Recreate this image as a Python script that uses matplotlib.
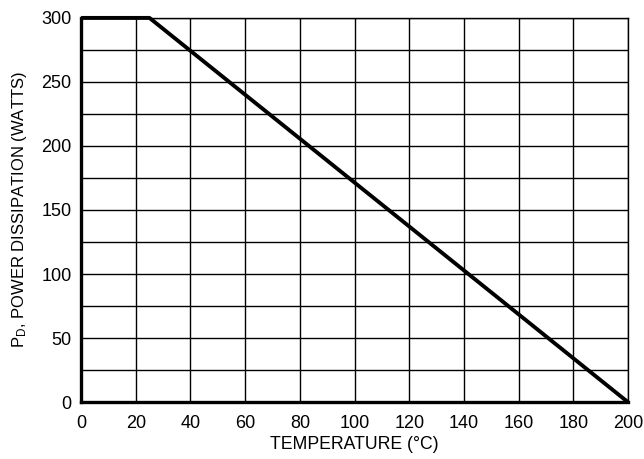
import numpy as np
import matplotlib.pyplot as plt

plt.rcParams['font.family'] = ['Liberation Sans', 'DejaVu Sans']

# derating curve
temp = [0, 25, 200]
power = [300, 300, 0]

xticks = [0, 20, 40, 60, 80, 100, 120, 140, 160, 180, 200]
yticks = [0, 50, 100, 150, 200, 250, 300]

fig = plt.figure(figsize=(6.44, 4.59), dpi=100)
ax = fig.add_axes([0.126, 0.124, 0.849, 0.837])

ax.plot(temp, power, color='black', lw=2.8, solid_capstyle='butt', zorder=3, clip_on=False)

ax.set_xlim(0, 200)
ax.set_ylim(0, 300)
ax.set_xticks(xticks)
ax.set_yticks(yticks)
ax.set_yticks(np.arange(0, 301, 25), minor=True)
ax.grid(True, which='major', color='black', lw=1.0)
ax.grid(True, which='minor', axis='y', color='black', lw=1.0)
ax.tick_params(which='both', length=0, labelsize=13, pad=7)
ax.tick_params(axis='x', pad=9)

for s in ['left', 'bottom']:
    ax.spines[s].set_linewidth(2.4)
for s in ['top', 'right']:
    ax.spines[s].set_linewidth(1.0)

ax.set_xlabel('TEMPERATURE (°C)', fontsize=12.7, labelpad=3)
ax.set_ylabel(r'$\mathregular{P_D}$, POWER DISSIPATION (WATTS)', fontsize=12, labelpad=9)

fig.savefig('out.png', dpi=100)
